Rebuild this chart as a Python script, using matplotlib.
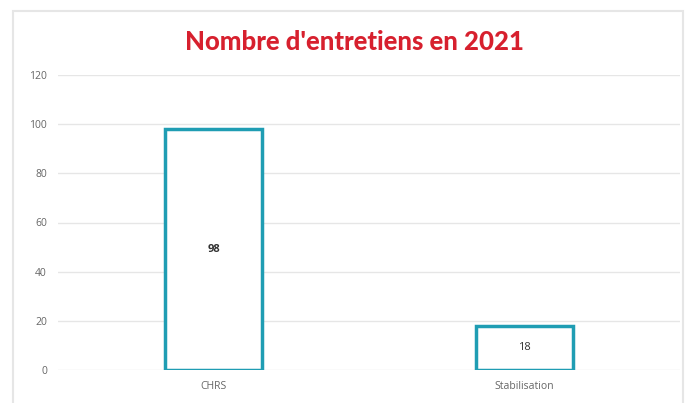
import matplotlib
matplotlib.use("Agg")
import matplotlib.pyplot as plt
from matplotlib.patches import Rectangle

categories = ["CHRS", "Stabilisation"]
values = [98, 18]
value_labels = ["98", "18"]
yticks = [0, 20, 40, 60, 80, 100, 120]
title = "Nombre d'entretiens en 2021"

plt.rcParams['font.family'] = ['Open Sans', 'DejaVu Sans']

fig = plt.figure(figsize=(6.86, 4.03), dpi=100)
fig.patch.set_facecolor("white")
fig.patches.append(Rectangle((13/686, -0.05), (683-13)/686, 1.05 - 11/403,
                             transform=fig.transFigure, fill=False,
                             edgecolor="#e6e6e6", linewidth=1.5, zorder=-5))

ax = fig.add_axes([58/686, 33/403, (680-58)/686, (370-75)/403])
x = list(range(len(categories)))
ax.bar(x, values, width=0.31, facecolor="white", edgecolor="#1f9db3", linewidth=2.5, zorder=3)
for xi, v, lab, w in zip(x, values, value_labels, ["bold", "normal"]):
    ax.text(xi, v / 2, lab, ha="center", va="center", fontsize=8, color="#333333",
            fontweight=w, zorder=4)

ax.set_xlim(-0.5, 1.5)
ax.set_ylim(0, 120)
ax.set_yticks(yticks)
ax.set_xticks(x)
ax.set_xticklabels(categories)
ax.tick_params(axis="both", length=0, labelsize=7.5, colors="#666666")
ax.tick_params(axis="y", pad=8)
ax.tick_params(axis="x", pad=8)
ax.grid(axis="y", color="#e6e6e6", linewidth=1, zorder=0)
for s in ax.spines.values():
    s.set_visible(False)

fig.text(354/686, 1 - 42/403, title, ha="center", va="center", fontsize=18.5,
         fontweight="black", family=["Lato", "DejaVu Sans"], color="#d7202e")

fig.savefig("out.png", dpi=100)
